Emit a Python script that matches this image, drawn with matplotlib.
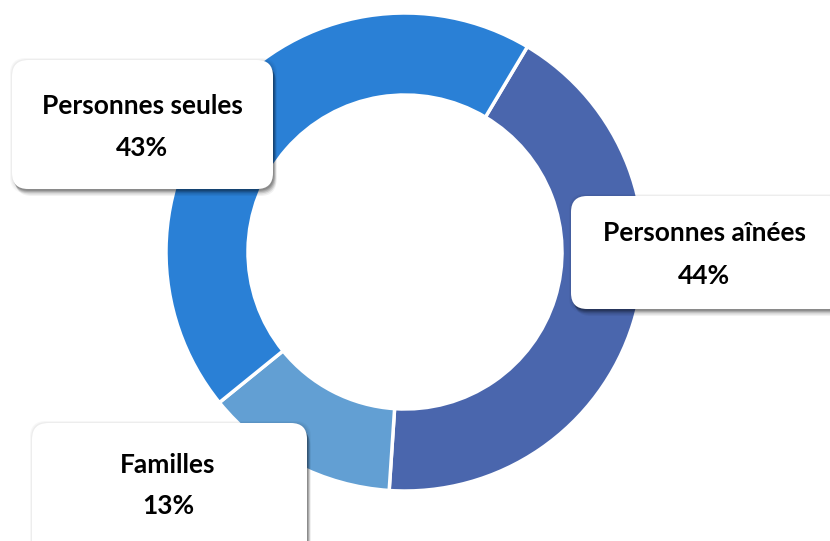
import matplotlib
matplotlib.use("Agg")
import matplotlib.pyplot as plt
from matplotlib.patches import FancyBboxPatch

categories = ["Personnes aînées", "Familles", "Personnes seules"]
values = [42.5, 13.1, 44.4]          # wedge sizes as drawn
pct_labels = ["44%", "13%", "43%"]   # labels as printed
colors = ["#4A66AD", "#629FD3", "#2A80D6"]

W, H = 830, 541
fig = plt.figure(figsize=(W / 100, H / 100), dpi=100)
ax = fig.add_axes([0, 0, 1, 1])

cx, cy = 405, H - 252
R = 239
ax.pie(values, colors=colors, startangle=59.2, counterclock=False,
       center=(cx, cy), radius=R,
       wedgeprops=dict(width=R - 157, edgecolor="white", linewidth=2.5))
ax.set_xlim(0, W)
ax.set_ylim(0, H)
ax.set_aspect("equal")
ax.axis("off")

font = ["Lato", "DejaVu Sans"]
FS = 19


def label_box(x0, y0, x1, y1):
    bx, by = x0, H - y1
    bw, bh = x1 - x0, y1 - y0
    # soft halo
    for p, a in [(3, 0.03), (2, 0.04), (1, 0.05)]:
        halo = FancyBboxPatch((bx + 1, by - 1), bw, bh,
                              boxstyle=f"round,pad={p},rounding_size=16",
                              facecolor="black", edgecolor="none", alpha=a, zorder=4)
        ax.add_patch(halo)
    # drop shadow
    for i, a in enumerate([0.05, 0.07, 0.09, 0.11, 0.13]):
        off = 7 - i * 1.3
        sh = FancyBboxPatch((bx + off * 0.5, by - off), bw, bh,
                            boxstyle="round,pad=0,rounding_size=16",
                            facecolor="black", edgecolor="none", alpha=a, zorder=4)
        ax.add_patch(sh)
    box = FancyBboxPatch((bx, by), bw, bh,
                         boxstyle="round,pad=0,rounding_size=16",
                         facecolor="white", edgecolor="none", zorder=5)
    ax.add_patch(box)


def label_text(x, y1, y2, name, pct):
    ax.text(x, H - y1, name, ha="center", va="center", fontsize=FS,
            fontweight="bold", family=font, zorder=6)
    ax.text(x, H - y2, pct, ha="center", va="center", fontsize=FS,
            fontweight="bold", family=font, zorder=6)


label_box(12, 60, 273, 189)
label_text(142, 106, 148, categories[2], pct_labels[2])

label_box(571, 196, 845, 309)
label_text(704, 233, 276, categories[0], pct_labels[0])

label_box(32, 423, 307, 565)
label_text(168, 465, 506, categories[1], pct_labels[1])

fig.savefig("out.png", dpi=100)
